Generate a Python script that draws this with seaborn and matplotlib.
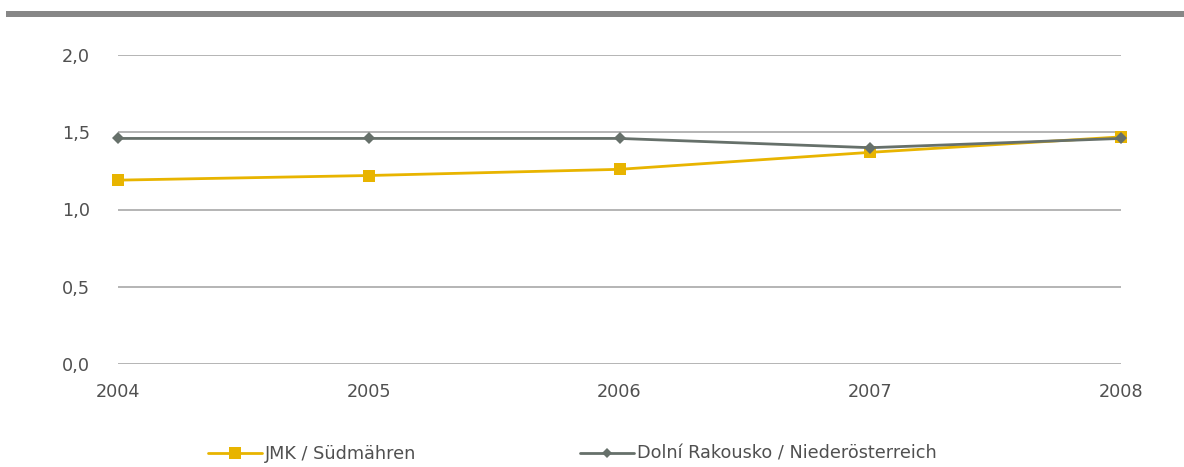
import matplotlib
matplotlib.use("Agg")
import matplotlib.pyplot as plt
import seaborn as sns
import pandas as pd
from matplotlib.lines import Line2D

years = [2004, 2005, 2006, 2007, 2008]
jmk = [1.19, 1.22, 1.26, 1.37, 1.47]
noe = [1.46, 1.46, 1.46, 1.40, 1.46]
series_names = ["JMK / Südmähren", "Dolní Rakousko / Niederösterreich"]
y_ticks = [0.0, 0.5, 1.0, 1.5, 2.0]
y_labels = ["0,0", "0,5", "1,0", "1,5", "2,0"]

sns.set_theme(style="white")
plt.rcParams["font.family"] = ["DejaVu Sans"]
plt.rcParams["font.weight"] = "normal"

FS = 12.7
TXT = "#505050"
colors = {series_names[0]: "#e8b400", series_names[1]: "#66706a"}
markers = {series_names[0]: "s", series_names[1]: "D"}
sizes = {series_names[0]: 9, series_names[1]: 6}

df = pd.DataFrame({
    "year": years * 2,
    "value": jmk + noe,
    "series": [series_names[0]] * len(years) + [series_names[1]] * len(years),
})

W, H = 1184, 467
fig = plt.figure(figsize=(W / 100, H / 100), dpi=100)
ax = fig.add_axes([118 / W, (H - 364) / H, (1121 - 118) / W, (364 - 55) / H])

# decorative rule across the top
fig.add_artist(plt.Rectangle((6 / W, (H - 17) / H), 1 - 6 / W, 6 / H,
                             transform=fig.transFigure, color="#878787", lw=0))

for yt in y_ticks:
    ax.axhline(yt, color="#a8a8a8", lw=1.2, zorder=0)

for name in series_names:
    sub = df[df["series"] == name]
    sns.lineplot(data=sub, x="year", y="value", ax=ax, color=colors[name],
                 marker=markers[name], markersize=sizes[name],
                 markeredgewidth=0, lw=2, legend=False, clip_on=False)

ax.set_xlim(2004, 2008)
ax.set_ylim(0, 2.0)
ax.set_yticks(y_ticks)
ax.set_yticklabels(y_labels)
ax.set_xticks(years)
ax.set_xticklabels([str(y) for y in years])
ax.set_xlabel("")
ax.set_ylabel("")
for s in ax.spines.values():
    s.set_visible(False)
ax.tick_params(axis="y", length=0, pad=20, labelsize=FS, labelcolor=TXT)
ax.tick_params(axis="x", length=0, pad=14, labelsize=FS, labelcolor=TXT)

legend_x = [208 / W, 580 / W]
for name, lx in zip(series_names, legend_x):
    h = Line2D([], [], color=colors[name], lw=2, marker=markers[name],
               markersize=sizes[name] * (0.95 if name == series_names[0] else 0.8),
               markeredgewidth=0)
    fig.legend([h], [name], loc="center left", bbox_to_anchor=(lx, (H - 454) / H),
               frameon=False, borderpad=0, borderaxespad=0, handlelength=3.05,
               handletextpad=0.2, fontsize=FS, labelcolor=TXT)

fig.savefig("out.png", dpi=100, facecolor="white")
